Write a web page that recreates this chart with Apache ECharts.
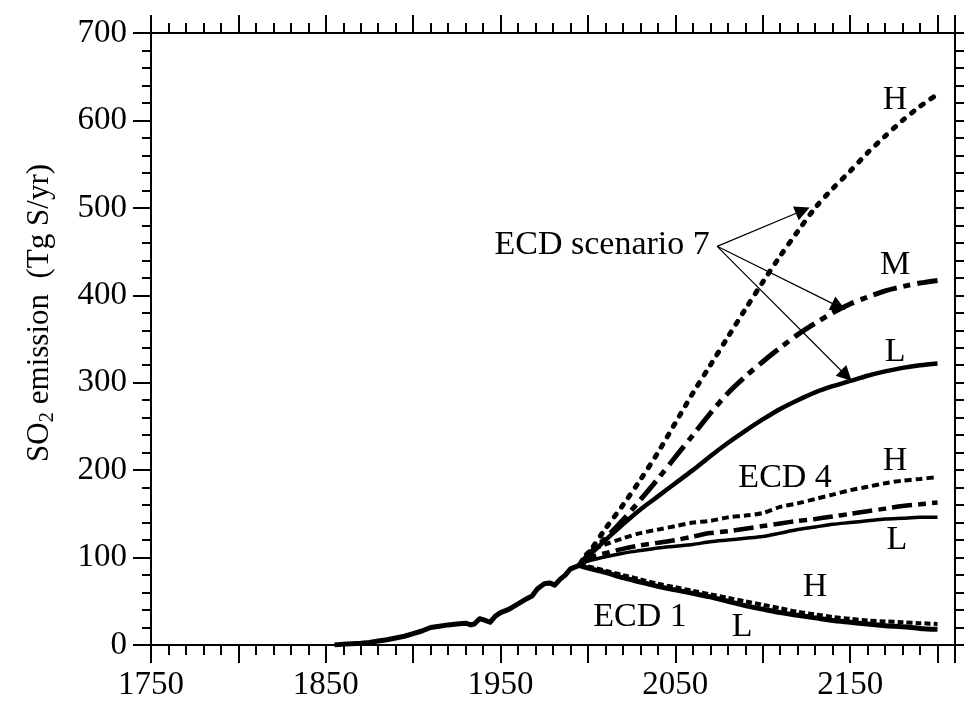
<!DOCTYPE html>
<html>
<head>
<meta charset="utf-8">
<script src="https://cdn.jsdelivr.net/npm/echarts@6/dist/echarts.min.js"></script>
<style>
  html, body { margin: 0; padding: 0; background: #fff; }
  #chart { width: 964px; height: 706px; }
</style>
</head>
<body>
<div id="chart"></div>
<script>
// Historical SO2 emissions (Tg S/yr)
const historyYears  = [1855, 1860, 1865, 1870, 1875, 1880, 1885, 1890, 1895, 1900, 1905, 1910, 1915, 1920, 1925, 1930, 1933, 1935, 1938, 1940, 1944, 1947, 1950, 1955, 1960, 1965, 1968, 1971, 1975, 1978, 1981, 1984, 1987, 1990, 1995];
const historyValues = [0, 1, 1.5, 2, 3, 4.5, 6, 8, 10, 13, 16, 20, 21.5, 23, 24, 25, 23, 24, 30, 29, 26, 33, 37, 41, 47, 53, 56, 64, 70, 71, 68.5, 75, 80, 87, 91];

// Scenario projections
const scenarioYears = [1995, 2000, 2010, 2020, 2030, 2040, 2050, 2060, 2070, 2080, 2090, 2100, 2110, 2120, 2130, 2140, 2150, 2160, 2170, 2180, 2190, 2200];
const ecd7High = [91, 104, 133, 160, 189, 220, 254, 288, 320, 352, 384, 415, 445, 473, 500, 522, 542, 563, 582, 600, 616, 630];
const ecd7Mid  = [91, 103, 122, 143, 166, 190, 215, 240, 265, 288, 307, 324, 340, 355, 368, 380, 390, 398, 405, 410, 414, 417];
const ecd7Low  = [91, 101, 120, 138, 155, 170, 185, 200, 216, 231, 245, 258, 270, 280, 289, 296, 302, 308, 313, 317, 320, 322];
const ecd4High = [92, 106, 115, 122, 128, 132, 136, 140, 142, 146, 148, 151, 158, 162, 167, 172, 177, 181, 185, 188, 190, 192];
const ecd4Mid  = [91, 99, 105, 110, 114, 117, 120, 124, 128, 130, 133, 136, 139, 142, 144, 147, 150, 153, 156, 159, 161, 163];
const ecd4Low  = [91, 96, 101, 105, 108, 111, 113, 115, 118, 120, 122, 124, 128, 132, 135, 138, 140, 142, 144, 145, 146, 146];
const ecd1High = [92, 90, 85, 80, 75, 70, 66, 62, 58, 54, 50, 46, 42, 38, 35, 32, 30, 28, 27, 26, 25, 24];
const ecd1Low  = [91, 88, 83, 77, 72, 67, 63, 59, 55, 50, 45, 41, 37, 34, 31, 28, 26, 24, 22, 21, 19, 18];

// Axis ticks
const xMin = 1750, xMax = 2210, xMajor = 50, xMinor = 10, xLabelStep = 100;
const yMin = 0, yMax = 700, yMajor = 100;

// Text annotations: [year, value, text]
const annotations = [
  [2175.7, 623, 'H'],
  [2175.7, 434, 'M'],
  [2175.7, 335, 'L'],
  [2008.1, 457, 'ECD scenario 7'],
  [2112.8, 191, 'ECD 4'],
  [2175.7, 210, 'H'],
  [2176.8, 120, 'L'],
  [2129.9, 66, 'H'],
  [2029.8, 32, 'ECD 1'],
  [2088.2, 21, 'L']
];

// Pointer lines from the "ECD scenario 7" note: [fromYear, fromValue, toYear, toValue]
const pointers = [
  [2073.9, 456, 2122.9, 497],
  [2073.9, 456, 2143.5, 387],
  [2073.9, 456, 2147.8, 308]
];

const FONT = 'Liberation Serif';
const zip = (xs, ys) => xs.map((x, i) => [x, ys[i]]);

function lineSeries(name, values, width, dash, cap) {
  return {
    name: name,
    type: 'line',
    data: zip(scenarioYears, values),
    showSymbol: false,
    smooth: 0.3,
    lineStyle: { color: '#000', width: width, type: dash || 'solid', cap: cap || 'butt' },
    z: 3
  };
}

const black = { color: '#000', width: 2 };

function xAxisDef(position, interval, tickLen, showLine, showLabel) {
  return {
    type: 'value', position: position, min: xMin, max: xMax, interval: interval,
    axisLine: { show: showLine, onZero: false, lineStyle: black },
    axisTick: { show: true, inside: false, length: tickLen, lineStyle: black },
    axisLabel: {
      show: showLabel, margin: 24, color: '#000', fontFamily: FONT, fontSize: 33,
      formatter: v => ((v - xMin) % xLabelStep === 0 ? String(v) : '')
    },
    splitLine: { show: false }
  };
}

function yAxisDef(position, showLabel) {
  return {
    type: 'value', position: position, min: yMin, max: yMax, interval: yMajor,
    axisLine: { show: true, onZero: false, lineStyle: black },
    axisTick: { show: true, inside: false, length: 18, lineStyle: black },
    minorTick: { show: true, splitNumber: 5, length: 9, lineStyle: black },
    axisLabel: { show: showLabel, margin: 24, color: '#000', fontFamily: FONT, fontSize: 33 },
    splitLine: { show: false }
  };
}

const chart = echarts.init(document.getElementById('chart'), null, { renderer: 'canvas' });

chart.setOption({
  backgroundColor: '#fff',
  animation: false,
  grid: { left: 151, right: 9, top: 33, bottom: 61, containLabel: false },
  xAxis: [
    xAxisDef('bottom', xMajor, 18, true, true),
    xAxisDef('bottom', xMinor, 10, false, false),
    xAxisDef('top', xMajor, 18, true, false),
    xAxisDef('top', xMinor, 10, false, false)
  ],
  yAxis: [
    yAxisDef('left', true),
    yAxisDef('right', false)
  ],
  graphic: [{
    type: 'text',
    x: 40, y: 313,
    rotation: Math.PI / 2,
    style: {
      text: '{a|SO}{s|2}{a| emission  (Tg S/yr)}',
      align: 'center',
      verticalAlign: 'middle',
      fill: '#000',
      rich: {
        a: { fontFamily: FONT, fontSize: 31, lineHeight: 40, fill: '#000' },
        s: { fontFamily: FONT, fontSize: 21, lineHeight: 40, fill: '#000', padding: [14, 0, 0, 0] }
      }
    }
  }],
  series: [
    {
      name: 'Historical',
      type: 'line',
      data: zip(historyYears, historyValues),
      showSymbol: false,
      lineStyle: { color: '#000', width: 5, join: 'round' },
      z: 4
    },
    lineSeries('ECD 7 H', ecd7High, 5, [3, 9], 'round'),
    lineSeries('ECD 7 M', ecd7Mid, 5, [24, 7, 7, 7]),
    lineSeries('ECD 7 L', ecd7Low, 4.5),
    lineSeries('ECD 4 H', ecd4High, 4, [7, 4]),
    lineSeries('ECD 4 M', ecd4Mid, 4.5, [20, 6, 8, 6]),
    lineSeries('ECD 4 L', ecd4Low, 3.5),
    lineSeries('ECD 1 H', ecd1High, 4, [6, 3]),
    lineSeries('ECD 1 L', ecd1Low, 5),
    {
      name: 'Notes',
      type: 'scatter',
      data: annotations,
      symbolSize: 0,
      silent: true,
      itemStyle: { opacity: 1, color: '#000' },
      label: {
        show: true, position: 'inside', color: '#000',
        fontFamily: FONT, fontSize: 34,
        formatter: p => p.data[2]
      },
      markLine: {
        silent: true,
        symbol: ['none', 'triangle'],
        symbolSize: 15,
        label: { show: false },
        itemStyle: { color: '#000', opacity: 1 },
        lineStyle: { color: '#000', width: 1.2, type: 'solid', opacity: 1 },
        data: pointers.map(p => [{ coord: [p[0], p[1]] }, { coord: [p[2], p[3]] }])
      },
      z: 5
    }
  ]
});
</script>
</body>
</html>
